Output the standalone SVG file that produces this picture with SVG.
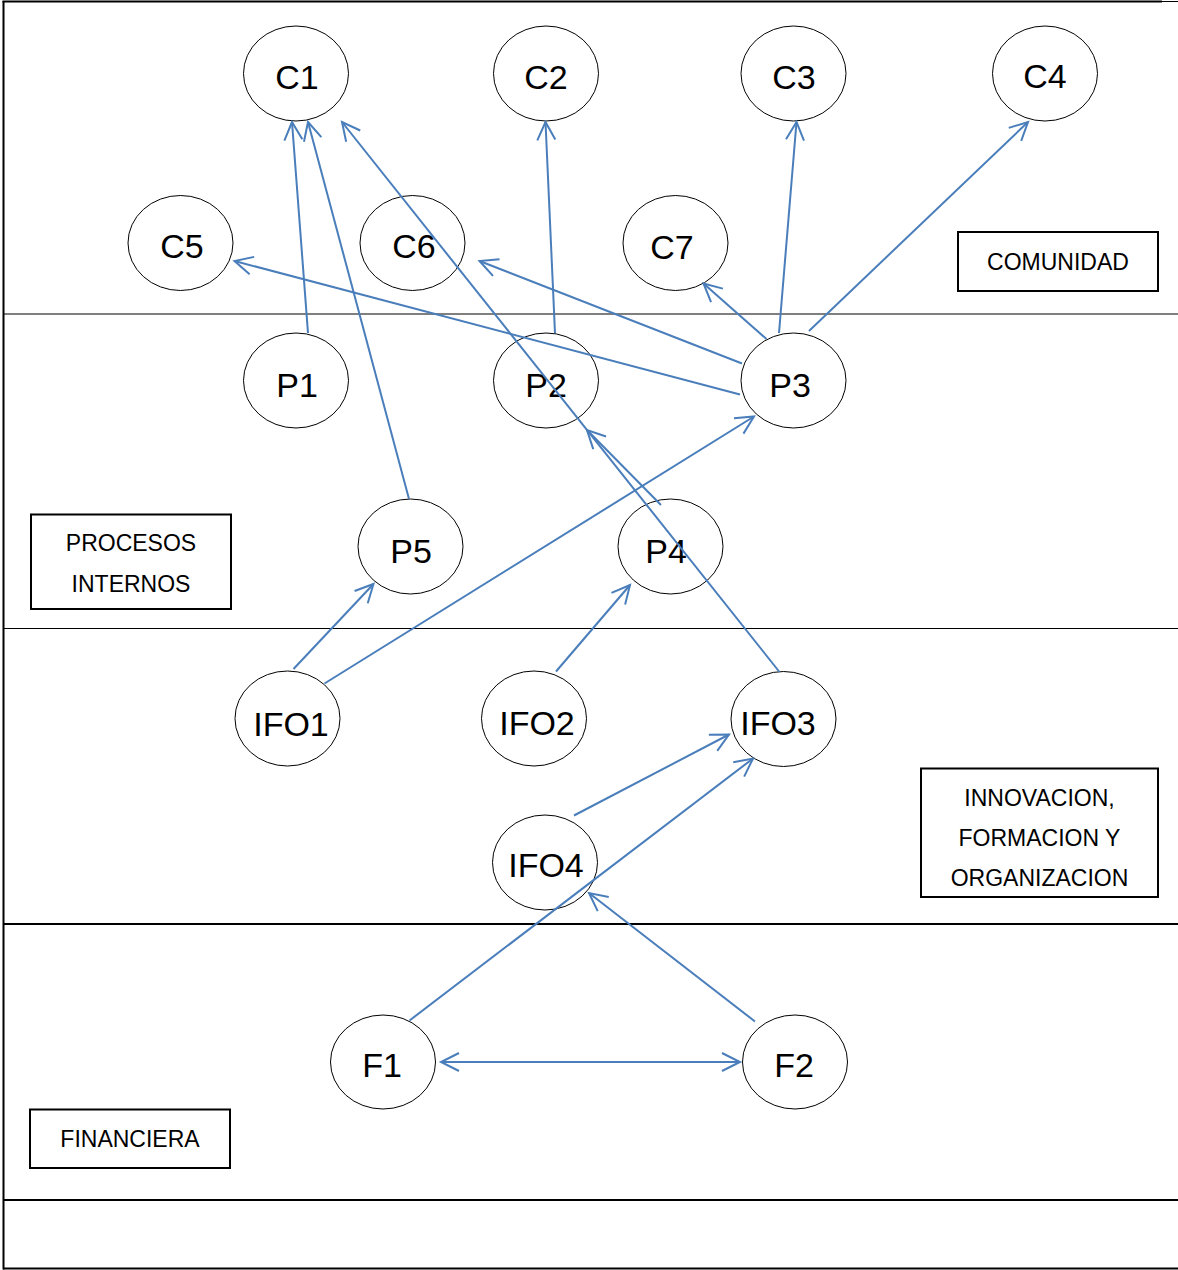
<svg xmlns="http://www.w3.org/2000/svg" width="1178" height="1270" viewBox="0 0 1178 1270">
  <style>
    .node ellipse { fill: #ffffff; stroke: #000000; stroke-width: 1; }
    .node text { font-family: "Liberation Sans", Arial, sans-serif; font-size: 34px; fill: #000000; text-anchor: middle; }
    .tag rect { fill: #ffffff; stroke: #000000; stroke-width: 2; }
    .tag text { font-family: "Liberation Sans", Arial, sans-serif; font-size: 23px; fill: #000000; text-anchor: middle; }
    .lane { stroke: #000000; fill: none; }
    .edge { stroke: #4a7ebb; stroke-width: 2; fill: none; marker-end: url(#arrow); }
  </style>
  <defs>
    <marker id="arrow" markerUnits="userSpaceOnUse" viewBox="-22 -12 26 24" refX="0" refY="0" markerWidth="26" markerHeight="24" orient="auto-start-reverse">
      <path d="M -18 -9 L 0 0 L -18 9" fill="none" stroke="#4a7ebb" stroke-width="2"/>
    </marker>
  </defs>

  <rect x="0" y="0" width="1178" height="1270" fill="#ffffff"/>

  <!-- frame and lane separators -->
  <g id="lanes">
    <line class="lane" x1="2.5" y1="1.5" x2="1162" y2="1.5" stroke-width="2"/>
    <line class="lane" x1="1162" y1="1.5" x2="1178" y2="1.5" stroke="#b0b0b0" stroke-width="1"/>
    <line class="lane" x1="3.5" y1="1" x2="3.5" y2="1269.5" stroke-width="2"/>
    <line class="lane" x1="3" y1="314" x2="1178" y2="314" stroke-width="1.2"/>
    <line class="lane" x1="3" y1="628.5" x2="1178" y2="628.5" stroke-width="1.2"/>
    <line class="lane" x1="3" y1="924" x2="1178" y2="924" stroke-width="2"/>
    <line class="lane" x1="3" y1="1200" x2="1178" y2="1200" stroke-width="2"/>
    <line class="lane" x1="3" y1="1268.5" x2="1178" y2="1268.5" stroke-width="2"/>
  </g>

  <!-- perspective labels -->
  <g id="tag-comunidad" class="tag">
    <rect x="958" y="232" width="200" height="59"/>
    <text x="1058" y="270">COMUNIDAD</text>
  </g>
  <g id="tag-procesos" class="tag">
    <rect x="31" y="514.5" width="200" height="94.5"/>
    <text x="131" y="551">PROCESOS</text>
    <text x="131" y="592">INTERNOS</text>
  </g>
  <g id="tag-innovacion" class="tag">
    <rect x="921" y="768.5" width="237" height="128.5"/>
    <text x="1039.5" y="806">INNOVACION,</text>
    <text x="1039.5" y="846">FORMACION Y</text>
    <text x="1039.5" y="886">ORGANIZACION</text>
  </g>
  <g id="tag-financiera" class="tag">
    <rect x="30" y="1109.5" width="200" height="58.5"/>
    <text x="130" y="1147">FINANCIERA</text>
  </g>

  <!-- nodes -->
  <g id="C1" class="node"><ellipse cx="296" cy="73.5" rx="52.5" ry="47.5"/><text x="297" y="88.5">C1</text></g>
  <g id="C2" class="node"><ellipse cx="546" cy="73.5" rx="52.5" ry="47.5"/><text x="546" y="88.5">C2</text></g>
  <g id="C3" class="node"><ellipse cx="793.5" cy="73.5" rx="52.5" ry="47.5"/><text x="794" y="88.5">C3</text></g>
  <g id="C4" class="node"><ellipse cx="1045" cy="73.5" rx="52.5" ry="47.5"/><text x="1045" y="88">C4</text></g>
  <g id="C5" class="node"><ellipse cx="180.5" cy="243" rx="52.5" ry="47.5"/><text x="182" y="257.5">C5</text></g>
  <g id="C6" class="node"><ellipse cx="412.5" cy="243" rx="52.5" ry="47.5"/><text x="414" y="258">C6</text></g>
  <g id="C7" class="node"><ellipse cx="675.5" cy="243" rx="52.5" ry="47.5"/><text x="672" y="259">C7</text></g>
  <g id="P1" class="node"><ellipse cx="296" cy="380.5" rx="52.5" ry="47.5"/><text x="297" y="396.5">P1</text></g>
  <g id="P2" class="node"><ellipse cx="546" cy="380.5" rx="52.5" ry="47.5"/><text x="546" y="396.5">P2</text></g>
  <g id="P3" class="node"><ellipse cx="793.5" cy="380.5" rx="52.5" ry="47.5"/><text x="790" y="396.5">P3</text></g>
  <g id="P4" class="node"><ellipse cx="670.5" cy="546.5" rx="52.5" ry="47.5"/><text x="666" y="563">P4</text></g>
  <g id="P5" class="node"><ellipse cx="410.5" cy="546.5" rx="52.5" ry="47.5"/><text x="411" y="563">P5</text></g>
  <g id="IFO1" class="node"><ellipse cx="287.5" cy="718.5" rx="52.5" ry="47.5"/><text x="291" y="736">IFO1</text></g>
  <g id="IFO2" class="node"><ellipse cx="534" cy="718.5" rx="52.5" ry="47.5"/><text x="537" y="735">IFO2</text></g>
  <g id="IFO3" class="node"><ellipse cx="783.5" cy="719" rx="52.5" ry="47.5"/><text x="778" y="735">IFO3</text></g>
  <g id="IFO4" class="node"><ellipse cx="545" cy="862.5" rx="52.5" ry="47.5"/><text x="546" y="877">IFO4</text></g>
  <g id="F1" class="node"><ellipse cx="383" cy="1062" rx="52.5" ry="47"/><text x="382" y="1077">F1</text></g>
  <g id="F2" class="node"><ellipse cx="795" cy="1062" rx="52.5" ry="47"/><text x="794" y="1077">F2</text></g>

  <!-- cause-effect connectors -->
  <g id="connectors">
    <line class="edge" x1="308" y1="333" x2="292" y2="122"/>
    <line class="edge" x1="409" y1="499" x2="308" y2="122"/>
    <line class="edge" x1="779.5" y1="672" x2="342" y2="122"/>
    <line class="edge" x1="555" y1="333" x2="545.5" y2="122"/>
    <line class="edge" x1="779" y1="333" x2="796.5" y2="122"/>
    <line class="edge" x1="809" y1="331" x2="1028" y2="122"/>
    <line class="edge" x1="766.5" y1="339" x2="703.5" y2="283.5"/>
    <line class="edge" x1="742" y1="363.5" x2="479.5" y2="261"/>
    <line class="edge" x1="740" y1="394.5" x2="234.5" y2="261"/>
    <line class="edge" x1="661" y1="505" x2="587" y2="430"/>
    <line class="edge" x1="293.5" y1="669" x2="373.5" y2="584"/>
    <line class="edge" x1="324.5" y1="683.5" x2="754" y2="416.5"/>
    <line class="edge" x1="556" y1="671.5" x2="630" y2="585"/>
    <line class="edge" x1="574" y1="815.5" x2="729" y2="734.5"/>
    <line class="edge" x1="409.5" y1="1020.5" x2="753" y2="758.5"/>
    <line class="edge" x1="755" y1="1021.5" x2="589" y2="893"/>
    <line class="edge" x1="441" y1="1062" x2="740" y2="1062" marker-start="url(#arrow)"/>
  </g>
</svg>
